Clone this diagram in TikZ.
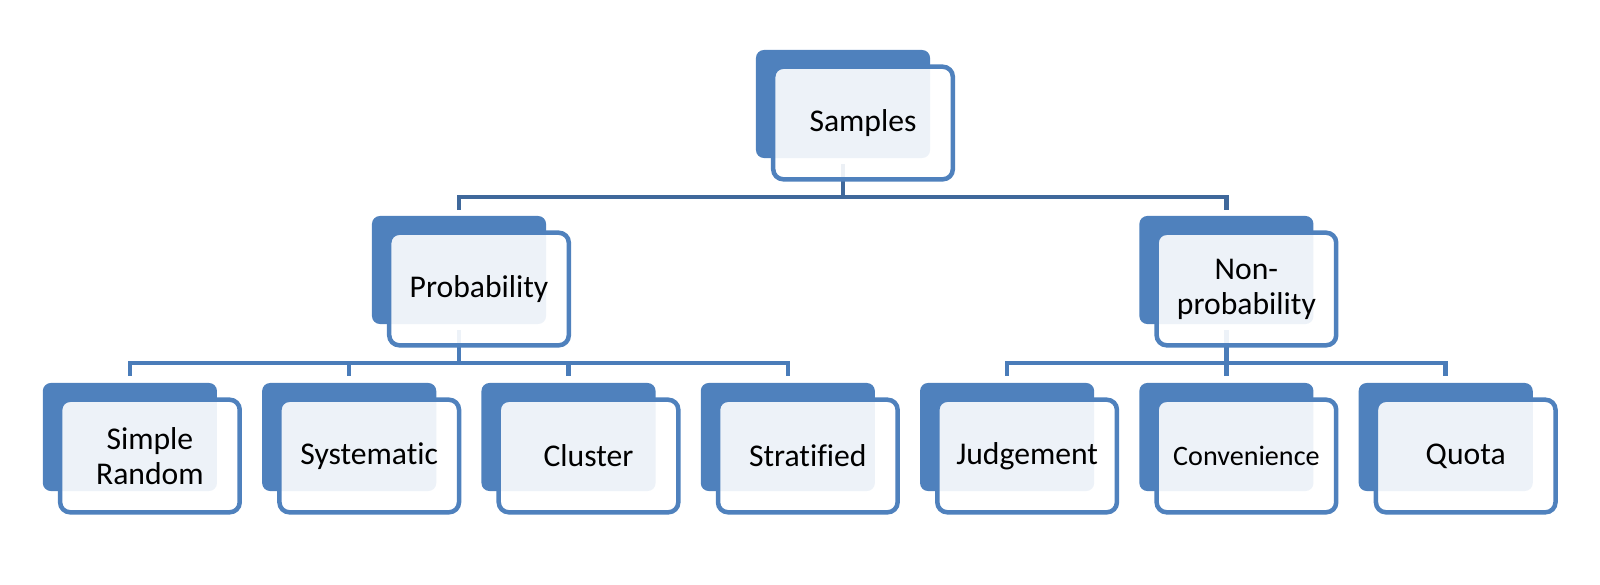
\documentclass[tikz,border=0pt]{standalone}
\usepackage{fontspec}
\setmainfont{Carlito}[Ligatures=NoCommon]
\begin{document}
\begin{tikzpicture}[x=0.01cm,y=-0.01cm]
  % colors
  \definecolor{kBlue}{HTML}{4F81BD}
  \definecolor{kDark}{HTML}{3F689B}
  \definecolor{kLink}{HTML}{4A7CB9}
  \tikzset{
    backbox/.style={fill=kBlue,rounded corners=0.08cm,minimum width=1.74cm,
      minimum height=1.08cm,inner sep=0pt,outer sep=0pt},
    frontbox/.style={draw=kBlue,line width=0.045cm,fill=white,fill opacity=0.9,
      text opacity=1,rounded corners=0.1cm,minimum width=1.795cm,
      minimum height=1.125cm,inner sep=0pt,outer sep=0pt,align=center,
      font=\fontsize{9}{10}\selectfont},
    link/.style={line width=0.045cm,color=kLink},
    toplink/.style={link,color=kDark}
  }
  \useasboundingbox (0,0) rectangle (1600,585);
  % back boxes
  \node[backbox] (samples) at (843,104) {};
  \node[backbox] (prob) at (459,270) {};
  \node[backbox] (nonprob) at (1226.4,270) {};
  \foreach \i/\name in {0/sRandom,1/systematic,2/cluster,3/stratified,
      4/judgement,5/convenience,6/quota} {
    \node[backbox] (\name) at ({129.9+219.3*\i},437) {};
  };
  % links
  \foreach \child in {prob,nonprob}
    \draw[toplink] ([yshift=-0.06cm]samples.south) -- ++(0,33)
      -| ([yshift=0.06cm]\child.north);
  \foreach \child in {sRandom,systematic,cluster,stratified}
    \draw[link] ([yshift=-0.06cm]prob.south) -- ++(0,33)
      -| ([yshift=0.07cm]\child.north);
  \foreach \child in {judgement,convenience,quota}
    \draw[link] ([yshift=-0.06cm]nonprob.south) -- ++(0,33)
      -| ([yshift=0.07cm]\child.north);
  % front boxes
  \node[frontbox] (samplesF) at ([xshift=0.2cm,yshift=-0.19cm]samples.center) {Samples};
  \node[frontbox] (probF) at ([xshift=0.2cm,yshift=-0.19cm]prob.center) {Probability};
  \node[frontbox] (nonprobF) at ([xshift=0.2cm,yshift=-0.19cm]nonprob.center) {Non-\\probability};
  \foreach \name/\txt in {sRandom/{Simple\\Random},systematic/Systematic,
      cluster/Cluster,stratified/Stratified,judgement/Judgement,
      convenience/{\fontsize{8}{9}\selectfont Convenience},quota/Quota} {
    \node[frontbox] (\name F) at ([xshift=0.2cm,yshift=-0.19cm]\name.center) {\txt};
  };
\end{tikzpicture}
\end{document}
